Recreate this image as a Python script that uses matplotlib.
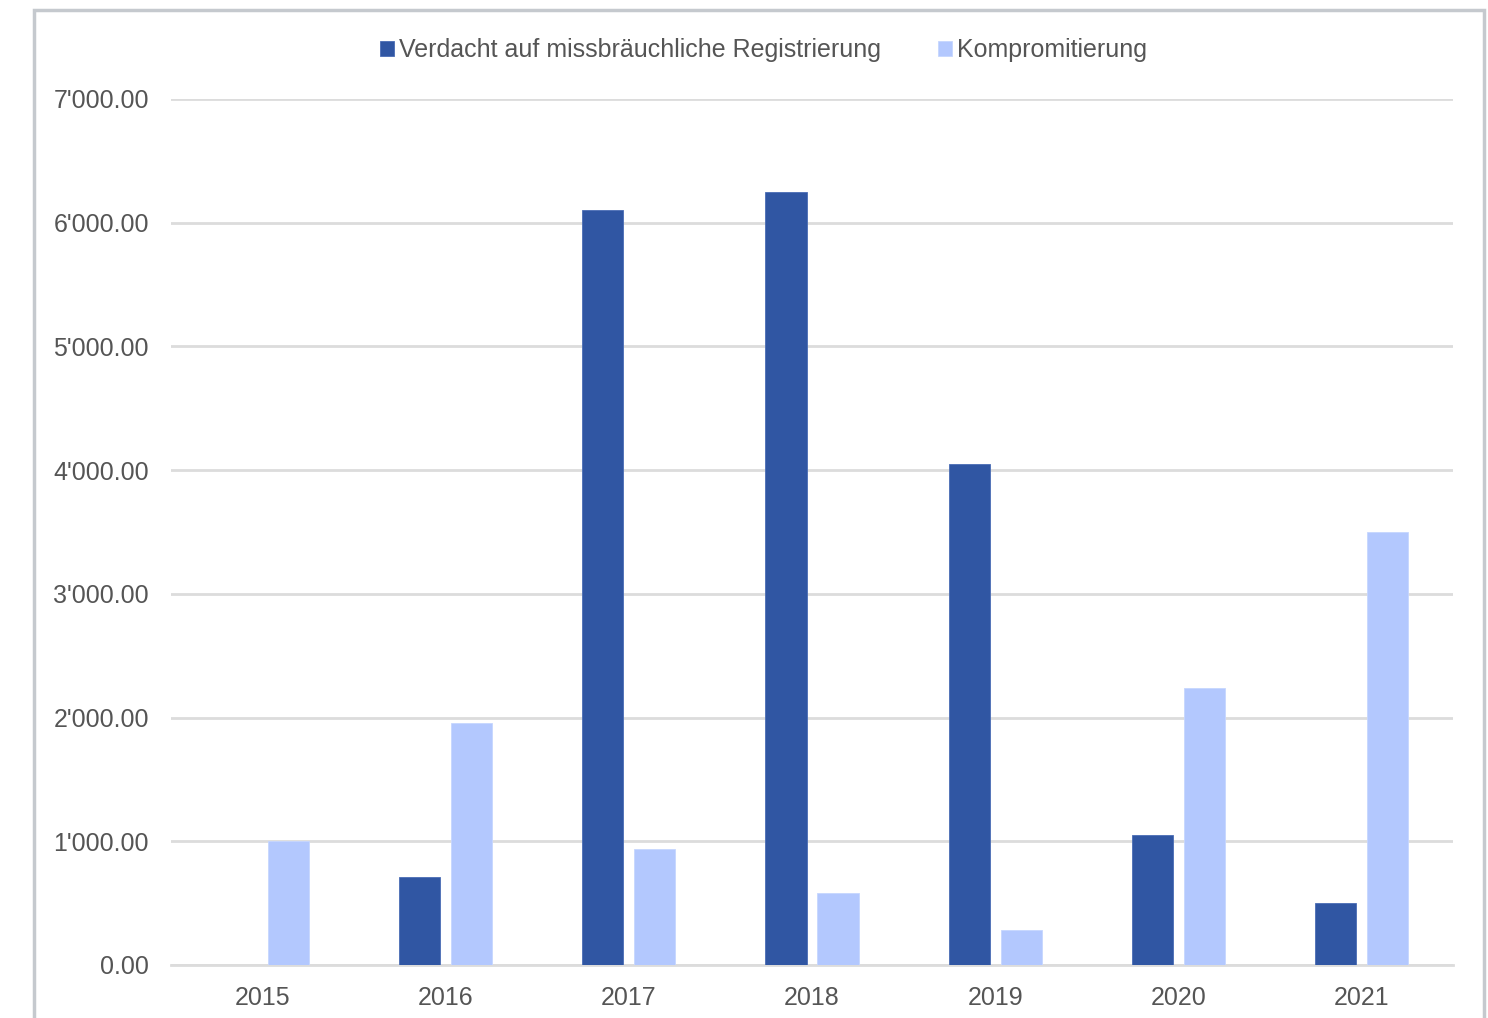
import matplotlib
matplotlib.use("Agg")
import matplotlib.pyplot as plt
import numpy as np
from matplotlib.patches import Rectangle
from matplotlib.ticker import FuncFormatter, MultipleLocator

plt.rcParams['font.family'] = ['Liberation Sans', 'DejaVu Sans']

years = ["2015", "2016", "2017", "2018", "2019", "2020", "2021"]
verdacht = [0, 710, 6100, 6250, 4050, 1050, 500]
kompromitierung = [1000, 1960, 940, 580, 285, 2240, 3500]
series_names = ["Verdacht auf missbräuchliche Registrierung", "Kompromitierung"]

dark = "#3056A3"
light = "#B3C8FE"
text_col = "#555555"
grid_col = "#DCDCDC"

fig = plt.figure(figsize=(14.88, 10.18), dpi=100)
ax = fig.add_axes([171 / 1488, 53 / 1018, 1282 / 1488, 866 / 1018])

x = np.arange(len(years))
w = 0.225
off = 0.142
ax.bar(x - off, verdacht, w, color=dark, edgecolor="#4A6DB5", linewidth=0.6,
       label=series_names[0], zorder=3)
ax.bar(x + off, kompromitierung, w, color=light, edgecolor="#C6D6FF", linewidth=0.6,
       label=series_names[1], zorder=3)

ax.set_xlim(-0.5, len(years) - 0.5)
ax.set_ylim(0, 7000)
ax.yaxis.set_major_locator(MultipleLocator(1000))
ax.yaxis.set_major_formatter(FuncFormatter(lambda v, _: f"{v:,.2f}".replace(",", "'")))
ax.set_xticks(x)
ax.set_xticklabels(years)

ax.grid(axis="y", color=grid_col, linewidth=2, zorder=0)
for s in ["top", "right", "left"]:
    ax.spines[s].set_visible(False)
ax.spines["bottom"].set_color(grid_col)
ax.spines["bottom"].set_linewidth(2)
ax.tick_params(axis="both", length=0, labelsize=18, labelcolor=text_col)
ax.tick_params(axis="y", pad=16)
ax.tick_params(axis="x", pad=15)

leg = fig.legend(loc="center", bbox_to_anchor=(0.513, 1 - 50 / 1018), ncol=2,
                 frameon=False, fontsize=18, handlelength=0.55, handleheight=0.55,
                 handletextpad=0.2, columnspacing=2.3, labelcolor=text_col)

# outer chart frame
fig.patches.append(Rectangle((34 / 1488, -0.05), 1450 / 1488, 1.05 - 10 / 1018,
                             transform=fig.transFigure, fill=False,
                             edgecolor="#C5C9CE", linewidth=2.5))

fig.savefig("out.png", dpi=100, facecolor="white")
